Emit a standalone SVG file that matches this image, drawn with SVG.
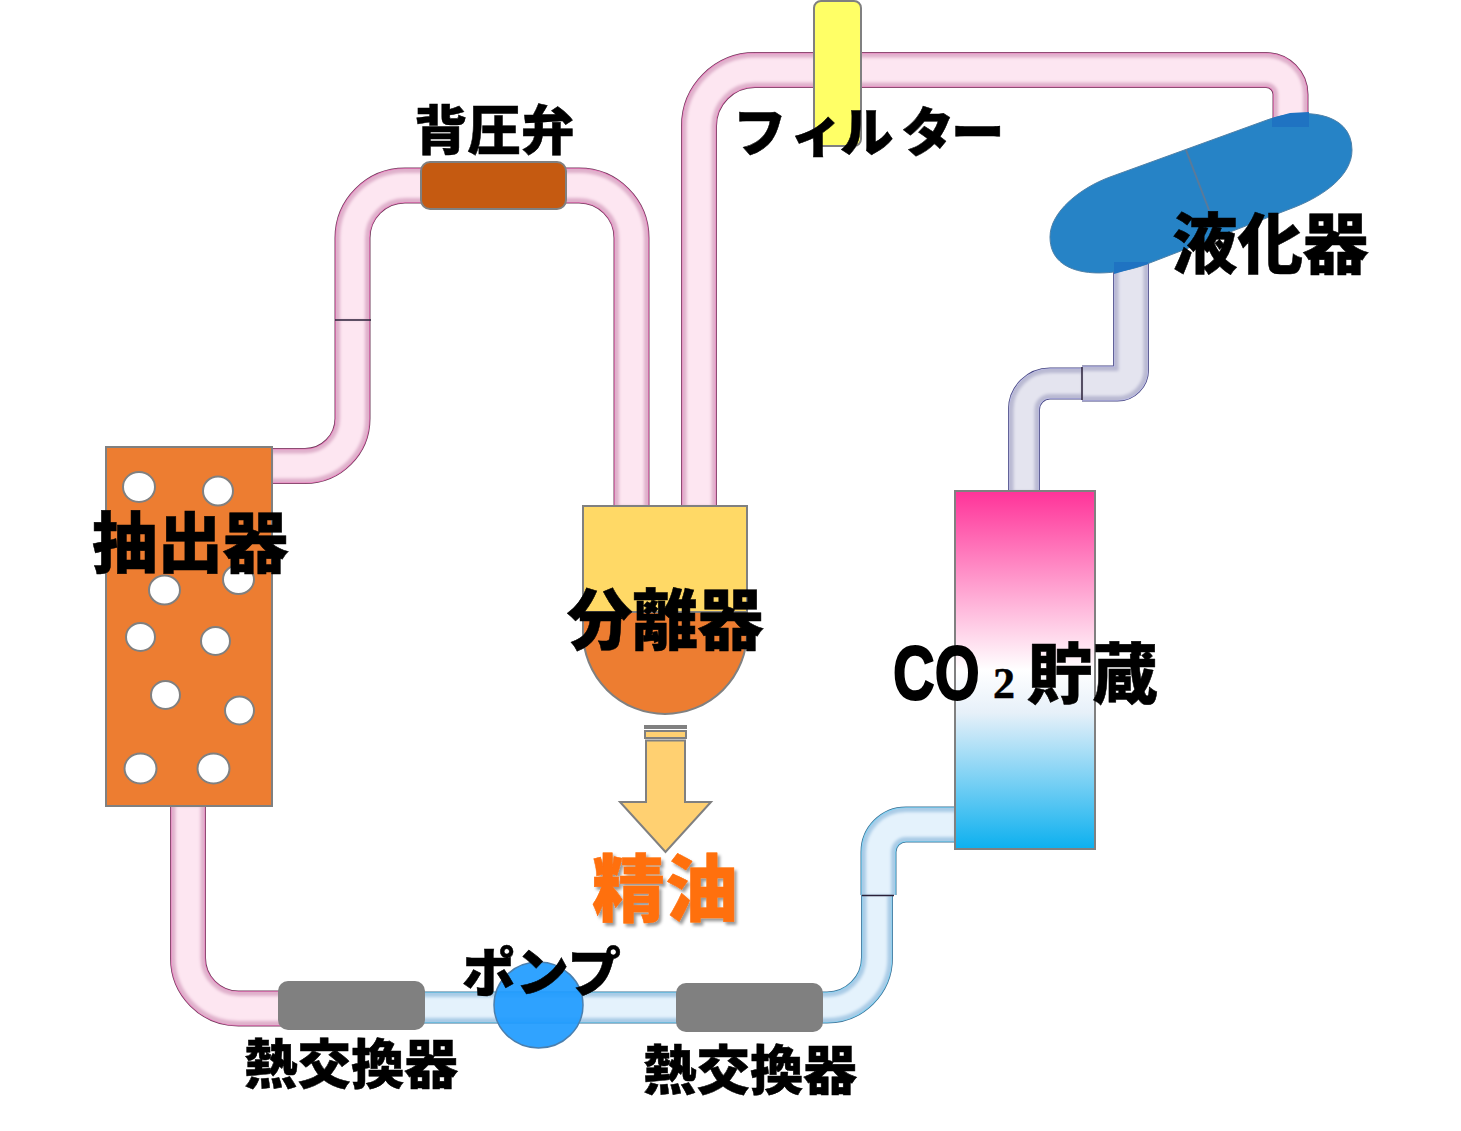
<svg xmlns="http://www.w3.org/2000/svg" width="1461" height="1131" viewBox="0 0 1461 1131">
<style>
text{font-family:"Noto Sans CJK JP","Noto Sans CJK SC",sans-serif;font-weight:900;fill:#000;stroke:#000;stroke-width:.5}
.l{font-size:65.5px}.m{font-size:53.5px}
.hole{fill:#fff;stroke:#808080;stroke-width:2}
.sh{stroke:#808080;stroke-width:2}
use{fill:none}
.a0{stroke-width:36}.a1{stroke-width:34.5}.a2{stroke-width:33}.a3{stroke-width:25}
.b0{stroke-width:32}.b1{stroke-width:30.5}.b2{stroke-width:29}.b3{stroke-width:21}
.a3,.b3{filter:url(#soft)}
.pk0{stroke:#6e3d5a}.pk1{stroke:#ee7cc0}.pk2{stroke:#dfb0cb}.pk3{stroke:#fde6f1}
.bl0{stroke:#3f6e92}.bl1{stroke:#7fd4f5}.bl2{stroke:#a9cbe6}.bl3{stroke:#e4f2fc}
.lv0{stroke:#45457e}.lv1{stroke:#bdbdea}.lv2{stroke:#b9b9d2}.lv3{stroke:#e4e4ef}
.seam{stroke:#2a2038;stroke-width:1.5;fill:none}
</style>
<defs>
<linearGradient id="co2" x1="0" y1="0" x2="0" y2="1">
<stop offset="0" stop-color="#ff3399"/><stop offset="0.5" stop-color="#ffffff"/><stop offset="0.62" stop-color="#e6f0f9"/><stop offset="1" stop-color="#0cb0ef"/>
</linearGradient>
<filter id="ts" x="-10%" y="-10%" width="125%" height="125%"><feDropShadow dx="2.5" dy="3" stdDeviation="1.5" flood-color="#000" flood-opacity="0.4"/></filter>
<filter id="soft" filterUnits="userSpaceOnUse" x="0" y="0" width="1461" height="1131"><feGaussianBlur stdDeviation="1.8"/></filter>
<path id="pA" d="M272,466 H305 A47.5,47.5 0 0 0 352.5,418.5 V320"/>
<path id="pB" d="M352.5,320 V238 A52.5,52.5 0 0 1 405,185.5 H579 A52.5,52.5 0 0 1 631.5,238 V506"/>
<path id="pC" d="M699,506 V126 A56,56 0 0 1 755,70 H1266 A24.5,24.5 0 0 1 1290.5,94.5 V127"/>
<path id="pD" d="M188,806 V958 A50.5,50.5 0 0 0 238.5,1008.5 H300"/>
<path id="pE" d="M400,1007.5 H827 A50,50 0 0 0 877,957.5 V895"/>
<path id="pF" d="M878.5,895 V852 A27.5,27.5 0 0 1 906,824.5 H955"/>
<path id="pG" d="M1131,262 V370 A13.5,13.5 0 0 1 1117.5,383.5 H1082"/>
<path id="pH" d="M1082,383.5 H1050 A26,26 0 0 0 1024,409.5 V491"/>
</defs>
<rect width="1461" height="1131" fill="#fff"/>
<g id="connectors">
<g id="pipe-pink">
<use href="#pA" class="a0 pk0"/><use href="#pA" class="a1 pk1"/><use href="#pA" class="a2 pk2"/><use href="#pA" class="a3 pk3"/>
<use href="#pB" class="a0 pk0"/><use href="#pB" class="a1 pk1"/><use href="#pB" class="a2 pk2"/><use href="#pB" class="a3 pk3"/>
<use href="#pC" class="a0 pk0"/><use href="#pC" class="a1 pk1"/><use href="#pC" class="a2 pk2"/><use href="#pC" class="a3 pk3"/>
<use href="#pD" class="a0 pk0"/><use href="#pD" class="a1 pk1"/><use href="#pD" class="a2 pk2"/><use href="#pD" class="a3 pk3"/>
<path class="seam" d="M335,320 H371"/>
</g>
<g id="pipe-blue">
<use href="#pE" class="b0 bl0"/><use href="#pE" class="b1 bl1"/><use href="#pE" class="b2 bl2"/><use href="#pE" class="b3 bl3"/>
<use href="#pF" class="a0 bl0"/><use href="#pF" class="a1 bl1"/><use href="#pF" class="a2 bl2"/><use href="#pF" class="a3 bl3"/>
<path class="seam" d="M862,895.5 H894"/>
</g>
<g id="pipe-lavender">
<use href="#pG" class="a0 lv0"/><use href="#pG" class="a1 lv1"/><use href="#pG" class="a2 lv2"/><use href="#pG" class="a3 lv3"/>
<use href="#pH" class="b0 lv0"/><use href="#pH" class="b1 lv1"/><use href="#pH" class="b2 lv2"/><use href="#pH" class="b3 lv3"/>
<path class="seam" d="M1082,367 V400"/>
</g>
</g>
<g id="extractor">
<rect class="sh" x="106" y="447" width="166" height="359" fill="#ed7d31"/>
<ellipse class="hole" cx="139" cy="487" rx="16" ry="15"/>
<ellipse class="hole" cx="218" cy="491" rx="15" ry="14.5"/>
<ellipse class="hole" cx="164.5" cy="590" rx="15.5" ry="14.5"/>
<ellipse class="hole" cx="238.5" cy="579.5" rx="15.5" ry="14.5"/>
<ellipse class="hole" cx="140.5" cy="637" rx="14.5" ry="14"/>
<ellipse class="hole" cx="215.5" cy="641" rx="14.5" ry="14"/>
<ellipse class="hole" cx="165.5" cy="695" rx="14.5" ry="14"/>
<ellipse class="hole" cx="239.5" cy="710.5" rx="14.5" ry="14"/>
<ellipse class="hole" cx="140.5" cy="768.5" rx="16" ry="15"/>
<ellipse class="hole" cx="213.5" cy="768.5" rx="16" ry="15"/>
<text class="l" x="92" y="567">抽出器</text>
</g>
<g id="valve">
<rect class="sh" x="421" y="162" width="145" height="47" rx="9" fill="#c55a11"/>
<text class="m" x="414" y="150">背圧弁</text>
</g>
<g id="separator">
<rect class="sh" x="583" y="506" width="164" height="106" fill="#ffd966"/>
<path class="sh" d="M583,612 H747 V632 A82,82 0 0 1 583,632 Z" fill="#ed7d31"/>
<text class="l" x="567" y="644">分離器</text>
</g>
<g id="oil">
<path class="sh" d="M645,726 H686 V728 H645 Z M645,731 H686 V738 H645 Z M646,740.5 H685 V802 H711 L665.5,852 L620,802 H646 Z" fill="#ffd071"/>
<text x="592" y="915" font-size="73" style="fill:#ff6f0a;stroke:#ff6f0a" filter="url(#ts)">精油</text>
</g>
<g id="filter">
<rect class="sh" x="814" y="1" width="47" height="145" rx="7" fill="#ffff66"/>
<text class="m" x="733 790 840 901 951" y="152">フィルター</text>
</g>
<g id="condenser">
<path d="M1110,177 L1267,120 C1300,108 1352,110 1352,150 C1352,175 1325,195 1295,207 L1147,264 C1110,278 1050,280 1050,237 C1050,212 1080,188 1110,177 Z" fill="#2683c6" stroke="#4f81a8" stroke-width="1"/>
<path d="M1272,118 L1290,113 L1309,112 V127 H1272 Z M1114,262 H1148 V264 L1114,274 Z" fill="#1f73c2"/>
<path d="M1186,150 L1209,210" stroke="#5a7a9a" stroke-width="2" fill="none"/>
<text class="l" x="1172" y="268">液化器</text>
</g>
<g id="co2-storage">
<rect class="sh" x="955" y="491" width="140" height="358" fill="url(#co2)"/>
<text transform="translate(893 699) scale(.76 1)" font-size="76" style="font-family:'Liberation Sans',sans-serif;font-weight:700;stroke-width:2">CO</text>
<text x="993" y="698" font-size="44" style="font-family:'Liberation Serif',serif;font-weight:700">2</text>
<text class="l" x="1027" y="698">貯蔵</text>
</g>
<g id="hx1">
<rect x="278" y="981" width="147" height="49" rx="10" fill="#808080"/>
<text class="m" x="244" y="1084">熱交換器</text>
</g>
<g id="pump">
<ellipse cx="538.5" cy="1005" rx="44.5" ry="43" fill="#1e9bff" fill-opacity="0.92" stroke="#4a7fae" stroke-width="1.5"/>
<text class="m" x="462" y="992">ポンプ</text>
</g>
<g id="hx2">
<rect x="676" y="983" width="147" height="49" rx="10" fill="#808080"/>
<text class="m" x="643" y="1090">熱交換器</text>
</g>
</svg>
